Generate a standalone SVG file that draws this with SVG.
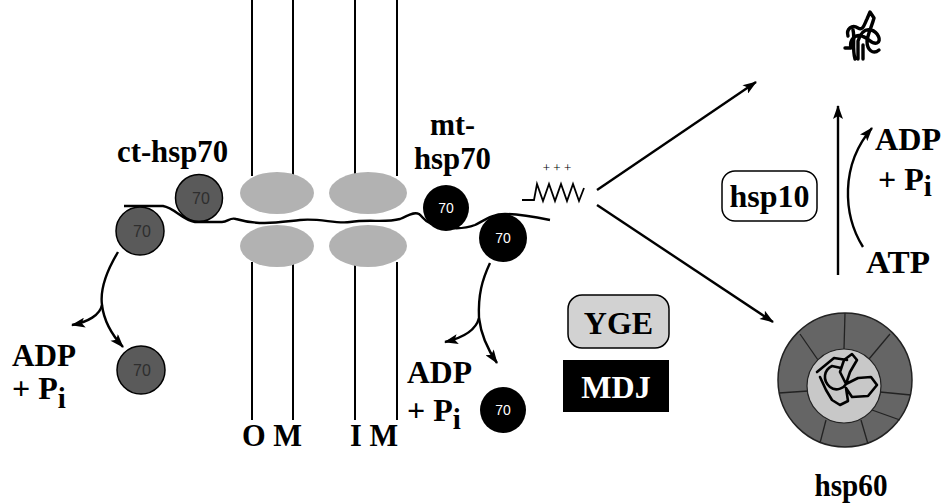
<svg xmlns="http://www.w3.org/2000/svg" width="945" height="504" viewBox="0 0 945 504">
  <defs>
    <marker id="ah" viewBox="0 0 14 10" refX="13" refY="5" markerWidth="15" markerHeight="10" markerUnits="userSpaceOnUse" orient="auto">
      <path d="M0,0 L14,5 L0,10 L3,5 Z" fill="#000"/>
    </marker>
    <marker id="ahs" viewBox="0 0 14 10" refX="13" refY="5" markerWidth="16" markerHeight="10" markerUnits="userSpaceOnUse" orient="auto">
      <path d="M0,0 L14,5 L0,10 L3,5 Z" fill="#000"/>
    </marker>
  </defs>
  <style>
    .lbl { font-family: "Liberation Serif", "Times New Roman", serif; font-weight: bold; fill: #000; }
    .mem { stroke: #000; stroke-width: 2; }
    .pore { fill: #b2b2b2; }
    .ct { fill: #5a5a5a; stroke: #000; stroke-width: 1.5; }
    .ctn { font-family: "Liberation Sans", Arial, sans-serif; font-size: 16px; fill: #2e2e2e; text-anchor: middle; }
    .mt { fill: #000; }
    .mtn { font-family: "Liberation Sans", Arial, sans-serif; font-size: 14px; fill: #fff; text-anchor: middle; }
    .conn { fill: none; stroke: #000; stroke-width: 2.4; }
  </style>

  <rect width="945" height="504" fill="#fff"/>

  <!-- membranes -->
  <g id="membranes">
    <line class="mem" x1="252" y1="0" x2="252" y2="176"/>
    <line class="mem" x1="293" y1="0" x2="293" y2="176"/>
    <line class="mem" x1="355" y1="0" x2="355" y2="176"/>
    <line class="mem" x1="397" y1="0" x2="397" y2="176"/>
    <line class="mem" x1="252" y1="262" x2="252" y2="420"/>
    <line class="mem" x1="293" y1="262" x2="293" y2="420"/>
    <line class="mem" x1="355" y1="262" x2="355" y2="420"/>
    <line class="mem" x1="397" y1="262" x2="397" y2="420"/>
    <ellipse class="pore" cx="277" cy="193" rx="37" ry="21"/>
    <ellipse class="pore" cx="368" cy="193" rx="39" ry="21"/>
    <ellipse class="pore" cx="277" cy="246" rx="37" ry="21"/>
    <ellipse class="pore" cx="368" cy="246" rx="39" ry="21"/>
    <text class="lbl" x="242" y="446" font-size="32" textLength="60" lengthAdjust="spacingAndGlyphs">O M</text>
    <text class="lbl" x="350" y="446" font-size="32" textLength="48" lengthAdjust="spacingAndGlyphs">I M</text>
  </g>

  <!-- ct-hsp70 -->
  <g id="ct-hsp70">
    <text class="lbl" x="117" y="162" font-size="32" textLength="111" lengthAdjust="spacingAndGlyphs">ct-hsp70</text>
    <circle class="ct" cx="199" cy="198" r="23.5"/>
    <text class="ctn" x="201" y="204">70</text>
    <circle class="ct" cx="140" cy="231" r="24"/>
    <text class="ctn" x="142" y="237">70</text>
  </g>

  <!-- polypeptide chain -->
  <g id="chain">
    <path class="conn" stroke-width="2.8" d="M124,206 L163,206 C175,208 182,220 195,222 L222,222 C228,222 230,217 236,219 C260,226 280,222 300,220 C320,218 335,224 350,222 C370,219 385,223 400,219 C408,216 414,211 419,214 C423,217 424,221 430,223 C445,229 462,230 475,225 C485,220 492,214 505,214 C520,214 535,217 550,220"/>
  </g>

  <!-- mt-hsp70 -->
  <g id="mt-hsp70">
    <text class="lbl" x="430" y="135" font-size="32" textLength="45" lengthAdjust="spacingAndGlyphs">mt-</text>
    <text class="lbl" x="414" y="169" font-size="32" textLength="77" lengthAdjust="spacingAndGlyphs">hsp70</text>
    <circle class="mt" cx="446" cy="208" r="23"/>
    <text class="mtn" x="446" y="213">70</text>
    <circle class="mt" cx="503" cy="238" r="24"/>
    <text class="mtn" x="503" y="243">70</text>
  </g>

  <!-- presequence -->
  <g id="presequence">
    <text x="557" y="172" font-family="Liberation Serif, serif" font-size="13" fill="#000" text-anchor="middle">+ + +</text>
    <path fill="none" stroke="#000" stroke-width="1.8" d="M522,200 L534,200 L537,184 L543,201 L549,184 L555,201 L561,184 L567,201 L573,184 L579,201 L584,188"/>
  </g>

  <!-- released hsp70 -->
  <g id="ct-free">
    <circle class="ct" cx="141" cy="370" r="24"/>
    <text class="ctn" x="142" y="376">70</text>
  </g>
  <g id="mt-free">
    <circle class="mt" cx="503" cy="410" r="23"/>
    <text class="mtn" x="503" y="415">70</text>
  </g>

  <!-- ADP + Pi labels -->
  <g id="adp-left">
    <text class="lbl" x="12" y="366" font-size="32" textLength="64" lengthAdjust="spacingAndGlyphs">ADP</text>
    <text class="lbl" x="12" y="399" font-size="32">+ P<tspan dy="9" font-size="29">i</tspan></text>
  </g>
  <g id="adp-mid">
    <text class="lbl" x="407" y="383" font-size="32" textLength="65" lengthAdjust="spacingAndGlyphs">ADP</text>
    <text class="lbl" x="407" y="421" font-size="32">+ P<tspan dy="8" font-size="29">i</tspan></text>
  </g>
  <g id="adp-right">
    <text class="lbl" x="875" y="150" font-size="32" textLength="66" lengthAdjust="spacingAndGlyphs">ADP</text>
    <text class="lbl" x="878" y="190" font-size="32">+ P<tspan dy="6" font-size="29">i</tspan></text>
  </g>
  <g id="atp">
    <text class="lbl" x="866" y="273" font-size="32" textLength="64" lengthAdjust="spacingAndGlyphs">ATP</text>
  </g>

  <!-- YGE / MDJ -->
  <g id="yge">
    <rect x="568" y="295" width="101" height="53" rx="14" fill="#d2d2d2" stroke="#000" stroke-width="1.5"/>
    <text class="lbl" x="618.5" y="334" font-size="32" text-anchor="middle">YGE</text>
  </g>
  <g id="mdj">
    <rect x="563" y="360" width="106" height="52" fill="#000"/>
    <text class="lbl" x="616" y="398" font-size="32" text-anchor="middle" style="fill:#fff">MDJ</text>
  </g>

  <!-- hsp10 -->
  <g id="hsp10">
    <rect x="722" y="171" width="95" height="50" rx="13" fill="#fff" stroke="#000" stroke-width="1.5"/>
    <text class="lbl" x="769.5" y="207" font-size="32" text-anchor="middle" textLength="80" lengthAdjust="spacingAndGlyphs">hsp10</text>
  </g>

  <!-- folded protein -->
  <g id="folded">
    <path fill="none" stroke="#000" stroke-width="3.4" stroke-linecap="round" stroke-linejoin="round"
      d="M845,48 L851,48 C849,40 855,34 862,36 C869,38 872,45 877,43 C882,41 878,32 871,30 C864,28 860,35 858,41 L858,59
         M853,30 C855,38 852,49 855,59 M848,36 C846,29 852,24 858,28 C863,31 864,25 867,19 L870,12 L874,18 C872,26 868,33 867,41 C867,50 873,55 879,50
         M863,45 L863,59"/>
  </g>

  <!-- hsp60 -->
  <g id="hsp60">
    <circle cx="845" cy="380" r="67" fill="#656565" stroke="#222" stroke-width="1.5"/>
    <g stroke="#222" stroke-width="1.3">
      <line x1="844" y1="349" x2="845" y2="313"/>
      <line x1="818" y1="360" x2="800" y2="334"/>
      <line x1="869" y1="359" x2="890" y2="334"/>
      <line x1="880" y1="392" x2="911" y2="395"/>
      <line x1="872" y1="410" x2="900" y2="420"/>
      <line x1="861" y1="420" x2="868" y2="444"/>
      <line x1="826" y1="420" x2="820" y2="443"/>
      <line x1="808" y1="391" x2="779" y2="393"/>
    </g>
    <circle cx="844" cy="386" r="37" fill="#c8c8c8" stroke="#222" stroke-width="1.2"/>
    <path fill="none" stroke="#000" stroke-width="2.6" stroke-linejoin="round" stroke-linecap="round"
      d="M817,372 L834,358 L847,360 M841,368 L832,366 C824,370 822,380 830,387 C836,392 844,388 846,384
         M846,384 L840,372 L844,360 L852,354 L857,360 L850,372 L846,384
         M846,384 L858,378 L871,377 L877,385 L868,396 L852,397 L846,388
         M846,388 L848,401 L840,405 L832,400 L826,390 L820,377"/>
    <text class="lbl" x="851" y="496" font-size="32" text-anchor="middle" textLength="73" lengthAdjust="spacingAndGlyphs">hsp60</text>
  </g>

  <!-- connectors -->
  <g id="connectors">
    <line class="conn" x1="597" y1="190" x2="756" y2="82" marker-end="url(#ah)"/>
    <line class="conn" x1="597" y1="205" x2="773" y2="322" marker-end="url(#ah)"/>
    <line class="conn" x1="838" y1="275" x2="838" y2="106" marker-end="url(#ah)"/>
    <path class="conn" d="M863,247 C843,215 840,165 872,128" marker-end="url(#ah)"/>
    <path class="conn" d="M118,252 C106,272 100,290 102,305 C100,315 88,322 72,325" marker-end="url(#ahs)"/>
    <path class="conn" d="M102,305 C104,322 112,335 123,347" marker-end="url(#ahs)"/>
    <path class="conn" d="M490,263 C482,280 478,295 479,318 C476,330 462,338 445,342" marker-end="url(#ahs)"/>
    <path class="conn" d="M479,318 C481,335 488,350 497,363" marker-end="url(#ahs)"/>
  </g>
</svg>
